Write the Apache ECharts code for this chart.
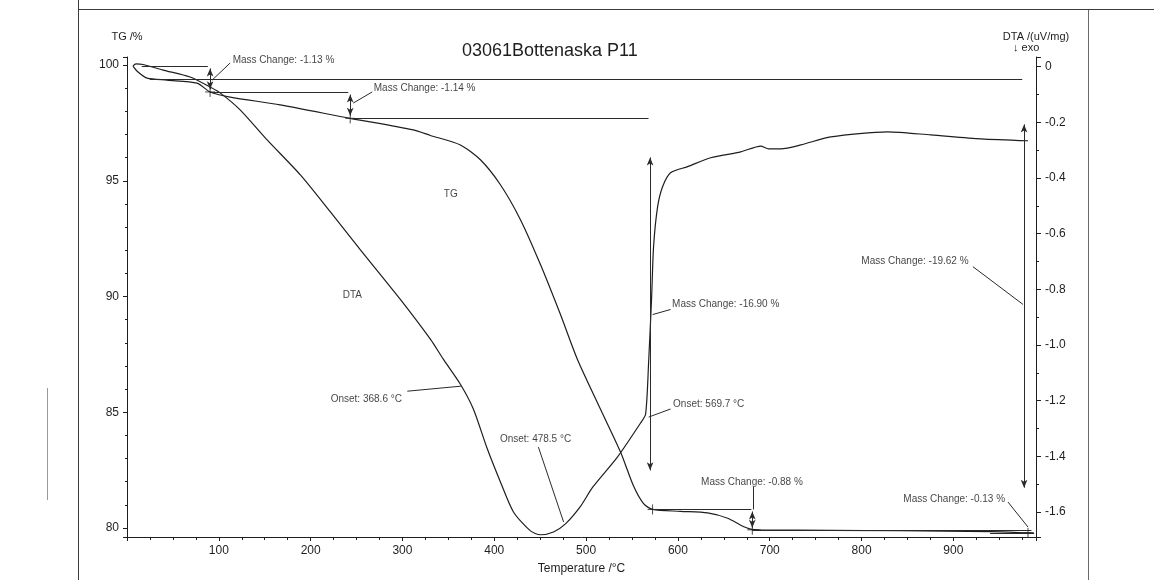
<!DOCTYPE html>
<html>
<head>
<meta charset="utf-8">
<title>03061Bottenaska P11</title>
<script src="https://cdn.jsdelivr.net/npm/echarts@6/dist/echarts.min.js"></script>
<style>
  html, body { margin: 0; padding: 0; background: #ffffff; }
  #chart { width: 1154px; height: 580px; }
</style>
</head>
<body>
<div id="chart"></div>
<script>
// TG curve: temperature (°C) and remaining mass (%)
const tgTemp = [6.5, 12.0, 21.8, 43.6, 76.3, 90.5, 112.3, 166.8, 243.1, 311.8, 330.4, 363.1, 384.9, 406.7,
                428.5, 450.3, 472.1, 490.6, 515.7, 537.5, 551.7, 562.6, 572.4, 602.9, 632.4, 654.2, 668.4,
                679.3, 690.2, 842.8, 940.0, 981.3, 987.8];
const tgMass = [99.96, 99.70, 99.44, 99.35, 99.22, 98.84, 98.62, 98.28, 97.70, 97.20, 96.96, 96.55, 95.91, 94.83,
                93.32, 91.38, 89.22, 87.28, 85.13, 83.28, 81.81, 81.05, 80.80, 80.72, 80.65, 80.42, 80.12,
                79.95, 79.92, 79.88, 79.84, 79.79, 79.78];

// DTA signal: temperature (°C) and uV/mg, exothermic downwards
const dtaTemp = [6.5, 9.8, 17.4, 39.3, 68.7, 90.5, 101.4, 123.2, 152.6, 188.6, 221.3, 254.0, 297.7, 330.4,
                 344.5, 363.1, 377.2, 392.5, 406.7, 420.9, 439.4, 450.3, 464.5, 477.5, 493.9, 507.0, 534.3,
                 559.4, 564.8, 568.1, 571.4, 573.5, 577.9, 583.3, 592.0, 610.6, 635.7, 668.4, 690.2, 698.9,
                 712.0, 733.9, 766.6, 828.6, 875.5, 930.0, 981.3];
const dtaSignal = [0.003, 0.010, 0.008, -0.012, -0.037, -0.073, -0.094, -0.155, -0.263, -0.388, -0.521, -0.657,
                   -0.836, -0.979, -1.051, -1.141, -1.230, -1.374, -1.492, -1.600, -1.668, -1.682, -1.672, -1.643,
                   -1.580, -1.512, -1.402, -1.280, -1.249, -1.063, -0.826, -0.646, -0.503, -0.431, -0.381, -0.359,
                   -0.327, -0.306, -0.285, -0.295, -0.295, -0.281, -0.252, -0.234, -0.245, -0.259, -0.266];

// Tick labels
const xTicks = [100, 200, 300, 400, 500, 600, 700, 800, 900];
const tgTicks = [80, 85, 90, 95, 100];
const dtaTicks = [0, -0.2, -0.4, -0.6, -0.8, -1.0, -1.2, -1.4, -1.6];

// Mass-loss steps evaluated on the TG curve
const tgStartLevel = 99.97;
const stepTemp = [90.5, 243.1, 569.7, 681.0, 981.3];
const stepChange = [-1.13, -1.14, -16.90, -0.88, -0.13];
const stepLineFrom = [16, 90.5, 243.1, 572.4, 681.0];
const totalTemp = 977.0;
const totalStartLevel = 99.40;
const totalChange = -19.62;

// DTA onset temperatures
const onsetTemp = [368.6, 478.5, 569.7];

const FONT = 'Liberation Sans, Arial, Helvetica, sans-serif';
const INK = '#1e1e1e';
const near = (list, v) => list.find(t => Math.abs(t - v) < 1e-6);
const fmtChange = v => 'Mass Change: ' + v.toFixed(2) + ' %';

// levels before/after each step
const levels = [tgStartLevel];
stepChange.forEach((c, i) => levels.push(+(levels[i] + c).toFixed(2)));

const tgData = tgTemp.map((t, i) => [t, tgMass[i]]);
const dtaData = dtaTemp.map((t, i) => [t, dtaSignal[i]]);

const seg = (a, b, arrows) => {
  const s = arrows ? { symbol: 'arrow', symbolSize: [5, 8] } : { symbol: 'none' };
  return [Object.assign({ coord: a }, s), Object.assign({ coord: b }, s)];
};

// reference levels, arrows and leader lines on the TG axis
const tgMarks = [];
// horizontal levels framing each step
const stepLineTo = [88, 241, 568, 680, 988];
for (let i = 0; i < 4; i++) {
  tgMarks.push(seg([stepLineFrom[i], levels[i]], [stepLineTo[i], levels[i]]));
}
tgMarks.push(seg([681.0, levels[4]], [985, levels[4]]));
tgMarks.push(seg([940, levels[5]], [988, levels[5]]));
tgMarks.push(seg([25, totalStartLevel], [totalTemp - 2, totalStartLevel]));
// double arrows, drawn a tenth of the step inside each level
for (let i = 0; i < 4; i++) {
  const inset = Math.abs(stepChange[i]) * 0.1;
  tgMarks.push(seg([stepTemp[i], levels[i] - inset], [stepTemp[i], levels[i + 1] + inset], true));
}
{
  const inset = Math.abs(totalChange) * 0.1;
  tgMarks.push(seg([totalTemp, totalStartLevel - inset], [totalTemp, totalStartLevel + totalChange + inset], true));
}
// small end tick for the last step
tgMarks.push(seg([stepTemp[4], levels[5] + 0.3], [stepTemp[4], levels[5] - 0.25]));
// leader lines from labels
tgMarks.push(seg([112.3, 100.09], [92.7, 99.35]));
tgMarks.push(seg([267.1, 98.84], [246.4, 98.36]));
tgMarks.push(seg([592.0, 89.44], [572.4, 89.22]));
tgMarks.push(seg([921.3, 91.29], [975.8, 89.66]));
tgMarks.push(seg([682.5, 81.77], [682.5, levels[3]]));
tgMarks.push(seg([959.5, 81.12], [981.3, 80.04]));

// onset leader lines on the DTA axis
const dtaMarks = [
  seg([305.3, -1.166], [onsetTemp[0] - 5, -1.148]),
  seg([448.1, -1.367], [onsetTemp[1] - 3, -1.636]),
  seg([592.0, -1.230], [onsetTemp[2] - 1.5, -1.259])
];

// step markers (+) on the TG curve
const crossData = [[stepTemp[0], levels[1]], [stepTemp[1], levels[2]], [572.4, levels[3]],
                   [stepTemp[3], levels[4]], [stepTemp[4], levels[5]]];

// text annotations anchored at their left edge (TG axis units)
const notes = [
  { value: [114.5, 100.22], name: fmtChange(stepChange[0]) },
  { value: [268.2, 99.01], name: fmtChange(stepChange[1]) },
  { value: [593.1, 89.66], name: fmtChange(stepChange[2]) },
  { value: [624.7, 81.98], name: fmtChange(stepChange[3]) },
  { value: [845.0, 81.25], name: fmtChange(stepChange[4]) },
  { value: [799.2, 91.51], name: fmtChange(totalChange) },
  { value: [221.3, 85.56], name: 'Onset: ' + onsetTemp[0].toFixed(1) + ' °C' },
  { value: [405.6, 83.84], name: 'Onset: ' + onsetTemp[1].toFixed(1) + ' °C' },
  { value: [594.2, 85.34], name: 'Onset: ' + onsetTemp[2].toFixed(1) + ' °C' },
  { value: [344.5, 94.40], name: 'TG' },
  { value: [234.4, 90.04], name: 'DTA' }
];

const chart = echarts.init(document.getElementById('chart'), null, { renderer: 'canvas' });

const axisCommon = {
  axisLine: { show: true, onZero: false, lineStyle: { color: INK, width: 1 } },
  axisTick: { show: true, inside: false, length: 4, lineStyle: { color: INK } },
  minorTick: { show: true, length: 2, lineStyle: { color: INK } },
  splitLine: { show: false },
  minorSplitLine: { show: false },
  nameTextStyle: { fontFamily: FONT, fontSize: 11, color: INK },
  axisLabel: { fontFamily: FONT, fontSize: 12, color: INK, showMinLabel: false, showMaxLabel: false }
};

chart.setOption({
  animation: false,
  backgroundColor: '#ffffff',
  title: {
    text: '03061Bottenaska P11',
    left: 457, top: 37,
    textStyle: { fontFamily: FONT, fontSize: 18, fontWeight: 'normal', color: INK }
  },
  grid: { left: 127, right: 118, top: 57, bottom: 42, containLabel: false },
  xAxis: Object.assign({}, axisCommon, {
    type: 'value', min: 0, max: 990, splitNumber: 10,
    name: 'Temperature /°C', nameLocation: 'middle', nameGap: 26,
    nameTextStyle: { fontFamily: FONT, fontSize: 12, color: INK },
    minorTick: { show: true, splitNumber: 4, length: 3, lineStyle: { color: INK } },
    axisLabel: Object.assign({}, axisCommon.axisLabel, {
      margin: 8,
      formatter: v => { const t = near(xTicks, v); return t === undefined ? '' : String(t); }
    })
  }),
  yAxis: [
    Object.assign({}, axisCommon, {
      type: 'value', position: 'left', min: 79.61, max: 100.35, splitNumber: 4,
      name: 'TG /%', nameLocation: 'end', nameGap: 15,
      minorTick: { show: true, splitNumber: 5, length: 2, lineStyle: { color: INK } },
      axisLabel: Object.assign({}, axisCommon.axisLabel, {
        margin: 8,
        formatter: v => { const t = near(tgTicks, v); return t === undefined ? '' : String(t); }
      })
    }),
    Object.assign({}, axisCommon, {
      type: 'value', position: 'right', min: -1.69, max: 0.035, splitNumber: 8,
      name: 'DTA /(uV/mg)', nameLocation: 'end', nameGap: 15,
      axisTick: { show: true, inside: false, length: 5, lineStyle: { color: INK } },
      minorTick: { show: true, splitNumber: 2, length: 3, lineStyle: { color: INK } },
      axisLabel: Object.assign({}, axisCommon.axisLabel, {
        margin: 9,
        formatter: v => { const t = near(dtaTicks, v); return t === undefined ? '' : (t === 0 ? '0' : t.toFixed(1)); }
      })
    })
  ],
  series: [
    {
      name: 'TG', type: 'line', yAxisIndex: 0, data: tgData,
      showSymbol: false, smooth: 0.25, clip: false,
      lineStyle: { color: INK, width: 1.2 }, silent: true,
      markLine: {
        silent: true, animation: false, symbol: ['none', 'none'],
        lineStyle: { type: 'solid', color: '#2a2a2a', width: 1 },
        label: { show: false }, emphasis: { disabled: true },
        data: tgMarks
      }
    },
    {
      name: 'DTA', type: 'line', yAxisIndex: 1, data: dtaData,
      showSymbol: false, smooth: 0.25, clip: false,
      lineStyle: { color: INK, width: 1.2 }, silent: true,
      markLine: {
        silent: true, animation: false, symbol: ['none', 'none'],
        lineStyle: { type: 'solid', color: '#2a2a2a', width: 1 },
        label: { show: false }, emphasis: { disabled: true },
        data: dtaMarks
      }
    },
    {
      name: 'steps', type: 'scatter', yAxisIndex: 0, data: crossData, silent: true,
      symbol: 'path://M0,5L10,5M5,0L5,10', symbolSize: 10,
      itemStyle: { color: 'rgba(0,0,0,0)', borderColor: INK, borderWidth: 1 }
    },
    {
      name: 'notes', type: 'scatter', yAxisIndex: 0, data: notes, silent: true,
      symbolSize: 1, itemStyle: { color: 'rgba(0,0,0,0)' },
      label: {
        show: true, position: 'right', distance: 0, formatter: '{b}',
        fontFamily: FONT, fontSize: 10, color: '#111111'
      }
    }
  ],
  graphic: [
    { type: 'text', left: 1013, top: 42, style: { text: '↓ exo', fontFamily: FONT, fontSize: 11, fill: INK } },
    // sheet edges of the printed page
    { type: 'line', shape: { x1: 78.5, y1: 0, x2: 78.5, y2: 580 }, style: { stroke: '#3a3a3a', lineWidth: 1 } },
    { type: 'line', shape: { x1: 78, y1: 9.5, x2: 1154, y2: 9.5 }, style: { stroke: '#3a3a3a', lineWidth: 1 } },
    { type: 'line', shape: { x1: 1088.5, y1: 10, x2: 1088.5, y2: 580 }, style: { stroke: '#6a6a6a', lineWidth: 1 } },
    { type: 'line', shape: { x1: 47.5, y1: 388, x2: 47.5, y2: 500 }, style: { stroke: '#9a9a9a', lineWidth: 1 } }
  ]
});
</script>
</body>
</html>
